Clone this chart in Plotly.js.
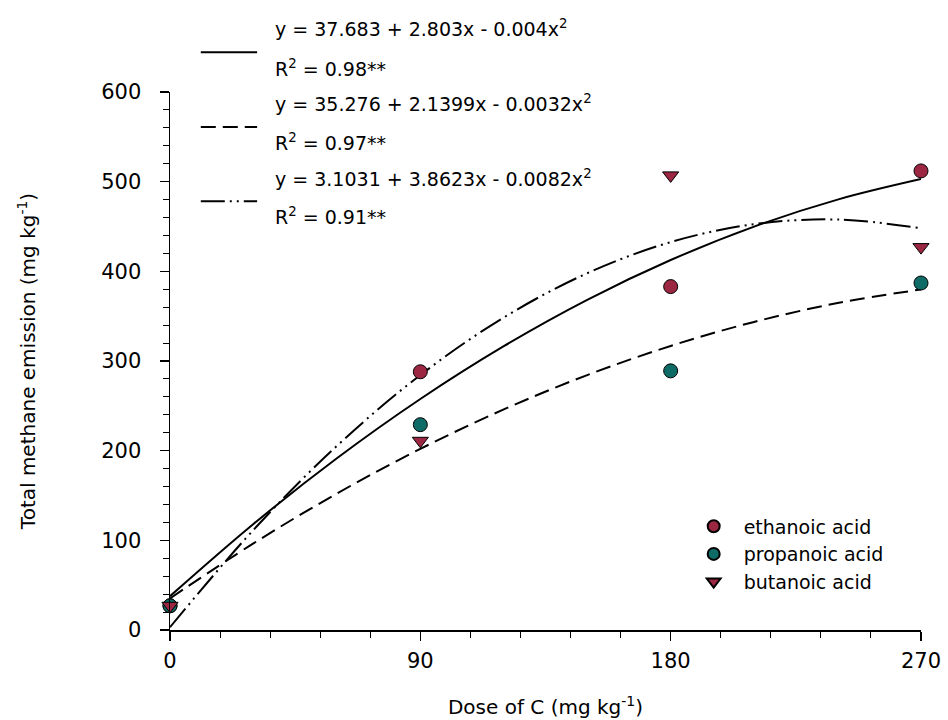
<!DOCTYPE html>
<html>
<head>
<meta charset="utf-8">
<script src="https://cdn.plot.ly/plotly-3.0.1.min.js"></script>
<style>html,body{margin:0;padding:0;background:#fff}#chart{width:948px;height:720px}</style>
</head>
<body>
<div id="chart"></div>
<script>
// Observed data (dose of C, mg kg-1)
const doses = [0, 90, 180, 270];
const ethanoic = [27, 288, 383, 512];
const propanoic = [27, 229, 289, 387];
const butanoic = [27, 211, 507, 427];

// Fitted curves
const curveX = [0, 30, 60, 90, 120, 150, 180, 210, 240, 270];
const fitEthanoic = [37.7, 118.2, 191.5, 257.6, 316.5, 368.2, 412.6, 449.9, 480.0, 502.9];
const fitPropanoic = [35.3, 96.6, 152.2, 202.0, 246.0, 284.3, 316.8, 343.6, 364.6, 379.8];
const fitButanoic = [3.1, 111.6, 205.3, 284.3, 348.5, 397.9, 432.6, 452.6, 457.8, 448.1];

const seriesNames = ['ethanoic acid', 'propanoic acid', 'butanoic acid'];
const eqLines = [
  'y = 37.683 + 2.803x - 0.004x<sup>2</sup>', 'R<sup>2</sup> = 0.98**',
  'y = 35.276 + 2.1399x - 0.0032x<sup>2</sup>', 'R<sup>2</sup> = 0.97**',
  'y = 3.1031 + 3.8623x - 0.0082x<sup>2</sup>', 'R<sup>2</sup> = 0.91**'
];

const maroon = '#9b2743';
const teal = '#0f6b66';
const FONT = 'DejaVu Sans';

const lineStyles = [
  {color: '#000', width: 2, dash: 'solid'},
  {color: '#000', width: 2, dash: '15px,7px'},
  {color: '#000', width: 2, dash: '24px,5px,2px,5px,2px,5px'}
];

const traces = [
  {x: curveX, y: fitEthanoic, mode: 'lines', line: Object.assign({shape: 'spline'}, lineStyles[0]), showlegend: false, hoverinfo: 'skip'},
  {x: curveX, y: fitPropanoic, mode: 'lines', line: Object.assign({shape: 'spline'}, lineStyles[1]), showlegend: false, hoverinfo: 'skip'},
  {x: curveX, y: fitButanoic, mode: 'lines', line: Object.assign({shape: 'spline'}, lineStyles[2]), showlegend: false, hoverinfo: 'skip'},
  {x: doses, y: ethanoic, name: seriesNames[0], mode: 'markers', cliponaxis: false,
   marker: {symbol: 'circle', size: 14, color: maroon, line: {color: '#000', width: 1}}},
  {x: doses, y: propanoic, name: seriesNames[1], mode: 'markers', cliponaxis: false,
   marker: {symbol: 'circle', size: 14, color: teal, line: {color: '#000', width: 1}}},
  {x: doses, y: butanoic, name: seriesNames[2], mode: 'markers', cliponaxis: false,
   marker: {symbol: 'triangle-down', size: 14, color: maroon, line: {color: '#000', width: 1}}}
];

// Legend for fitted curves (line samples + equation text)
const sampleY = [1.074, 0.935, 0.797];
const textY = [1.119, 1.045, 0.980, 0.907, 0.840, 0.770];
const shapes = sampleY.map((yy, i) => ({
  type: 'line', xref: 'paper', yref: 'paper', x0: 0.041, x1: 0.116, y0: yy, y1: yy,
  line: lineStyles[i]
}));
const annotations = eqLines.map((t, i) => ({
  text: t, xref: 'paper', yref: 'paper', x: 0.137, y: textY[i],
  xanchor: 'left', yanchor: 'middle', showarrow: false,
  font: {family: FONT, size: 19, color: '#000'}
}));

const layout = {
  width: 948, height: 720,
  margin: {l: 170, r: 27, t: 92, b: 90},
  paper_bgcolor: '#fff', plot_bgcolor: '#fff',
  font: {family: FONT, size: 20, color: '#000'},
  showlegend: true,
  legend: {x: 0.684, y: 0.228, xanchor: 'left', yanchor: 'top', bgcolor: 'rgba(0,0,0,0)',
           font: {family: FONT, size: 19, color: '#000'}, tracegroupgap: 0, itemsizing: 'constant',
           itemwidth: 50},
  xaxis: {
    range: [0, 270], tickvals: [0, 90, 180, 270], ticktext: ['0', '90', '180', '270'],
    showgrid: false, zeroline: false, showline: true, linecolor: '#000', linewidth: 1.5,
    ticks: 'outside', ticklen: 9, tickwidth: 1.5, tickcolor: '#000', ticklabelstandoff: 2,
    tickfont: {family: FONT, size: 21, color: '#000'},
    minor: {dtick: 18, tick0: 0, ticks: 'outside', ticklen: 6, tickwidth: 1, tickcolor: '#000', showgrid: false},
    title: {text: 'Dose of C (mg kg<sup>-1</sup>)', font: {family: FONT, size: 20, color: '#000'}, standoff: 28},
    automargin: false, fixedrange: true
  },
  yaxis: {
    range: [0, 600], dtick: 100, tick0: 0,
    showgrid: false, zeroline: false, showline: true, linecolor: '#000', linewidth: 1.5,
    ticks: 'outside', ticklen: 9, tickwidth: 1.5, tickcolor: '#000', ticklabelstandoff: 14,
    tickfont: {family: FONT, size: 21, color: '#000'},
    minor: {dtick: 20, tick0: 0, ticks: 'outside', ticklen: 6, tickwidth: 1, tickcolor: '#000', showgrid: false},
    title: {text: 'Total methane emission (mg kg<sup>-1</sup>)', font: {family: FONT, size: 20, color: '#000'}, standoff: 60},
    automargin: false, fixedrange: true
  },
  shapes: shapes,
  annotations: annotations
};

Plotly.newPlot('chart', traces, layout, {displayModeBar: false, staticPlot: true});
</script>
</body>
</html>
